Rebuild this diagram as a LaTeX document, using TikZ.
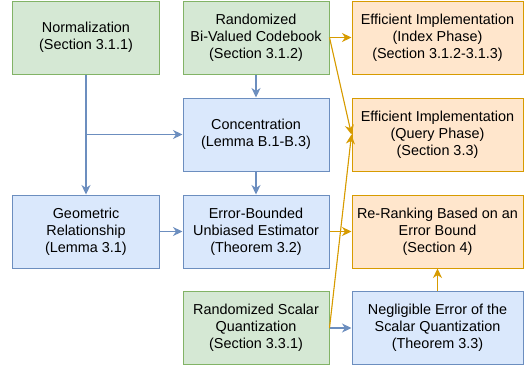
\documentclass[tikz,border=0pt]{standalone}
\usepackage{fontspec}
\setmainfont{Liberation Sans}
\usetikzlibrary{arrows.meta}
\definecolor{gfill}{HTML}{D5E8D4}
\definecolor{gline}{HTML}{82B366}
\definecolor{bfill}{HTML}{DAE8FC}
\definecolor{bline}{HTML}{6C8EBF}
\definecolor{ofill}{HTML}{FFE6CC}
\definecolor{oline}{HTML}{D79B00}
\tikzset{
  box/.style={rectangle, line width=1bp, align=center, inner sep=0pt,
    font=\fontsize{14.4bp}{17bp}\selectfont, minimum height=73bp},
  narrow/.style={minimum width=146bp},
  wide/.style={minimum width=171bp},
  gbox/.style={box, fill=gfill, draw=gline},
  bbox/.style={box, fill=bfill, draw=bline},
  obox/.style={box, fill=ofill, draw=oline},
  barrow/.style={draw=bline, line width=1.1bp, -{Stealth[length=9.5bp,width=9bp,inset=3bp]}, fill=bline},
  oarrow/.style={draw=oline, line width=1.1bp, -{Stealth[length=9.5bp,width=9bp,inset=3bp]}, fill=oline},
}
\begin{document}
\begin{tikzpicture}[x=1bp,y=-1bp]
\useasboundingbox (0,0) rectangle (532,366);
\node[gbox,narrow] (norm) at (86,37.5) {Normalization\\(Section 3.1.1)};
\node[gbox,narrow] (code) at (256,37.5) {Randomized\\Bi-Valued Codebook\\(Section 3.1.2)};
\node[obox,wide] (index) at (437.5,37.5) {Efficient Implementation\\(Index Phase)\\(Section 3.1.2-3.1.3)};
\node[bbox,narrow] (conc) at (256,134.5) {Concentration\\(Lemma B.1-B.3)};
\node[obox,wide] (query) at (437.5,134.5) {Efficient Implementation\\(Query Phase)\\(Section 3.3)};
\node[bbox,narrow] (geo) at (86,231.5) {Geometric\\Relationship\\(Lemma 3.1)};
\node[bbox,narrow] (est) at (256,231.5) {Error-Bounded\\Unbiased Estimator\\(Theorem 3.2)};
\node[obox,wide] (rerank) at (437.5,231.5) {Re-Ranking Based on an\\Error Bound\\(Section 4)};
\node[gbox,narrow] (scalar) at (256,328) {Randomized Scalar\\Quantization\\(Section 3.3.1)};
\node[bbox,wide] (negl) at (437.5,328) {Negligible Error of the\\Scalar Quantization\\(Theorem 3.3)};
\coordinate (br) at (86,134.5);
\draw[barrow] (norm.south) -- (geo.north);
\draw[barrow] (br) -- (conc.west);
\draw[barrow] (code.south) -- (conc.north);
\draw[barrow] (conc.south) -- (est.north);
\draw[barrow] (geo.east) -- (est.west);
\draw[barrow] (scalar.east) -- (negl.west);
\draw[oarrow] (est.east) -- (rerank.west);
\draw[oarrow] (code.east) -- (index.west);
\draw[oarrow] (code.east) -- (query.west);
\draw[oarrow] (scalar.east) -- (query.west);
\draw[oarrow] (negl.north) -- (rerank.south);
\end{tikzpicture}
\end{document}
